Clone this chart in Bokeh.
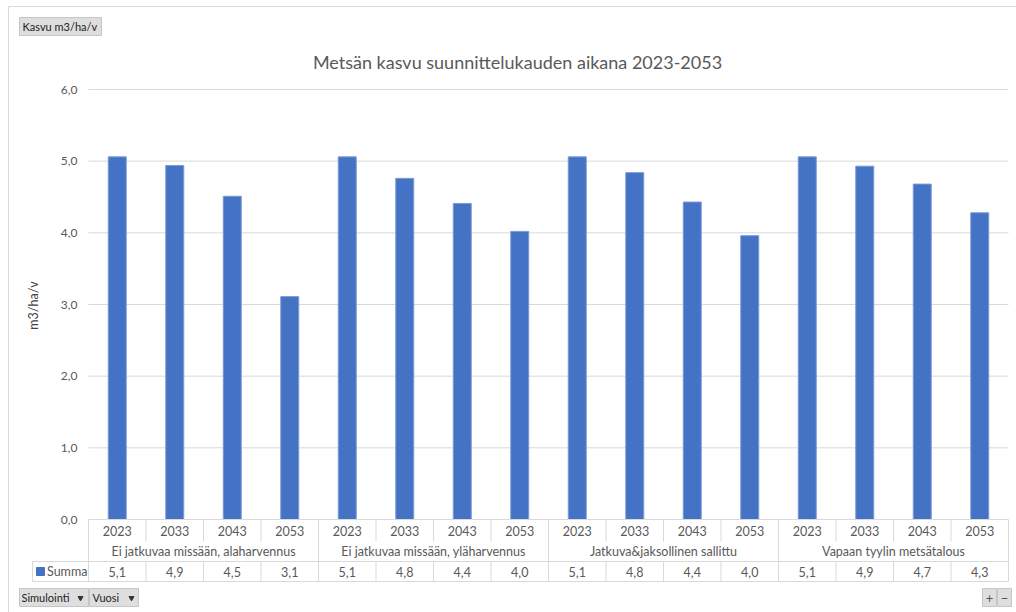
from bokeh.plotting import figure
from bokeh.models import Range1d
from bokeh.core.properties import value
from bokeh.embed import file_html
from bokeh.resources import INLINE

# ---------------- data ----------------
chart_title = "Metsän kasvu suunnittelukauden aikana 2023-2053"
y_title = "m3/ha/v"
field_button = "Kasvu m3/ha/v"
axis_buttons = ["Simulointi", "Vuosi"]
series_name = "Summa"
groups = [
    "Ei jatkuvaa missään, alaharvennus",
    "Ei jatkuvaa missään, yläharvennus",
    "Jatkuva&jaksollinen sallittu",
    "Vapaan tyylin metsätalous",
]
years = ["2023", "2033", "2043", "2053"]
values_alaharvennus = [5.06, 4.94, 4.51, 3.11]
values_ylaharvennus = [5.06, 4.76, 4.41, 4.02]
values_jatkuva = [5.06, 4.84, 4.43, 3.96]
values_vapaa = [5.06, 4.93, 4.68, 4.28]
y_ticks = [0, 1, 2, 3, 4, 5, 6]

series = [values_alaharvennus, values_ylaharvennus, values_jatkuva, values_vapaa]

# ---------------- layout (pixels) ----------------
W, H = 1016, 612
CELL = 57.5          # px per category cell
PLOT_LEFT = 88.0     # left edge of plot area
BASE = 519.0         # px of value 0
TOP = 89.0           # px of value 6
UNIT = (BASE - TOP) / (y_ticks[-1] - y_ticks[0])
X0 = -0.5 - PLOT_LEFT / CELL


def px(x):
    return X0 + x / CELL


def py(y):
    return (BASE - y) / UNIT


FONT = value("Lato")
GREY_TXT = "#595959"
LINE = "#d9d9d9"
BAR = "#4472C4"

p = figure(width=W, height=H, x_range=Range1d(px(0), px(W)), y_range=Range1d(py(H), py(0)),
           x_axis_type=None, y_axis_type=None, min_border=0, toolbar_location=None,
           output_backend="svg", outline_line_color=None,
           background_fill_color="white", border_fill_color="white")
p.xgrid.visible = False
p.ygrid.visible = False

# chart border (only left / top edges fall inside the window)
p.quad(left=[px(8)], right=[px(W + 40)], top=[py(6)], bottom=[py(H + 40)],
       fill_color=None, line_color=LINE, line_width=1)

# gridlines
n_cells = len(groups) * len(years)
gx0 = -0.5
gx1 = n_cells - 0.5
p.segment(x0=[gx0] * (len(y_ticks) - 1), y0=y_ticks[1:], x1=[gx1] * (len(y_ticks) - 1), y1=y_ticks[1:],
          line_color=LINE, line_width=1)

# y tick labels
p.text(x=[px(77)] * len(y_ticks), y=y_ticks,
       text=[f"{t:.1f}".replace(".", ",") for t in y_ticks],
       text_align="right", text_baseline="middle", text_font=FONT, text_font_size="12px",
       text_color=GREY_TXT)

# y axis title
p.text(x=[px(33)], y=[py(305)], text=[y_title], angle=1.5707963, text_align="center",
       text_baseline="middle", text_font=FONT, text_font_size="12.5px", text_color="#404040")

# title
p.text(x=[px(517)], y=[py(61)], text=[chart_title], text_align="center", text_baseline="middle",
       text_font=FONT, text_font_size="18px", text_color=GREY_TXT)

# bars
xs, tops, year_lbls, val_lbls = [], [], [], []
for gi, vals in enumerate(series):
    for yi, v in enumerate(vals):
        xs.append(gi * len(years) + yi)
        tops.append(v)
        year_lbls.append(years[yi])
        val_lbls.append(f"{v:.1f}".replace(".", ","))
p.vbar(x=xs, top=tops, bottom=0, width=18 / CELL, fill_color=BAR, line_color="#7c9bd6", line_width=1)

# ---------------- data table ----------------
ROW1 = 541.0   # bottom of year row
ROW2 = 561.0   # bottom of category row
ROW3 = 581.0   # bottom of value row
LEG_LEFT = 32.0

# horizontal lines
p.segment(x0=[gx0, px(LEG_LEFT), px(LEG_LEFT)], y0=[0, py(ROW2), py(ROW3)],
          x1=[gx1, gx1, gx1], y1=[0, py(ROW2), py(ROW3)], line_color=LINE, line_width=1)
# vertical lines
vx0, vy0, vx1, vy1 = [], [], [], []
for k in range(n_cells + 1):
    xb = k - 0.5
    if k % len(years) == 0:
        vx0.append(xb); vy0.append(0); vx1.append(xb); vy1.append(py(ROW3))
    else:
        vx0.append(xb); vy0.append(0); vx1.append(xb); vy1.append(py(ROW1))
        vx0.append(xb); vy0.append(py(ROW2)); vx1.append(xb); vy1.append(py(ROW3))
vx0.append(px(LEG_LEFT)); vy0.append(py(ROW2)); vx1.append(px(LEG_LEFT)); vy1.append(py(ROW3))
p.segment(x0=vx0, y0=vy0, x1=vx1, y1=vy1, line_color=LINE, line_width=1)

# year labels
p.text(x=xs, y=[py(530.5)] * len(xs), text=year_lbls, text_align="center", text_baseline="middle",
       text_font=FONT, text_font_size="12.5px", text_color=GREY_TXT)
# group labels
gcent = [gi * len(years) + (len(years) - 1) / 2 for gi in range(len(groups))]
p.text(x=gcent, y=[py(551)] * len(groups), text=groups, text_align="center", text_baseline="middle",
       text_font=FONT, text_font_size="12.5px", text_color=GREY_TXT)
# value labels
p.text(x=xs, y=[py(571)] * len(xs), text=val_lbls, text_align="center", text_baseline="middle",
       text_font=FONT, text_font_size="12.5px", text_color=GREY_TXT)
# legend key
p.scatter(x=[px(40)], y=[py(571)], marker="square", size=8, fill_color=BAR, line_color=BAR)
p.text(x=[px(46.5)], y=[py(571)], text=[series_name], text_align="left", text_baseline="middle",
       text_font=FONT, text_font_size="12.5px", text_color=GREY_TXT)

# ---------------- pivot buttons ----------------
BTN_FILL = "#dedede"
BTN_LINE = "#c6c6c6"
btn_l = [19, 19, 89, 982, 997]
btn_r = [101, 88, 138, 996, 1011]
btn_t = [17, 588, 588, 588, 588]
btn_b = [35, 606, 606, 606, 606]
p.quad(left=[px(v) for v in btn_l], right=[px(v) for v in btn_r],
       top=[py(v) for v in btn_t], bottom=[py(v) for v in btn_b],
       fill_color=BTN_FILL, line_color=BTN_LINE, line_width=1)
p.text(x=[px(22), px(21), px(92)], y=[py(26), py(597), py(597)],
       text=[field_button] + axis_buttons, text_align="left", text_baseline="middle",
       text_font=FONT, text_font_size="11px", text_color="#222222")
p.scatter(x=[px(80), px(131)], y=[py(597.5)] * 2, marker="inverted_triangle", size=5,
          fill_color="#333333", line_color="#333333")
p.text(x=[px(989), px(1004)], y=[py(597)] * 2, text=["+", "−"], text_align="center",
       text_baseline="middle", text_font=FONT, text_font_size="13px", text_color="#555555")

open("out.html", "w").write(file_html(p, INLINE))
